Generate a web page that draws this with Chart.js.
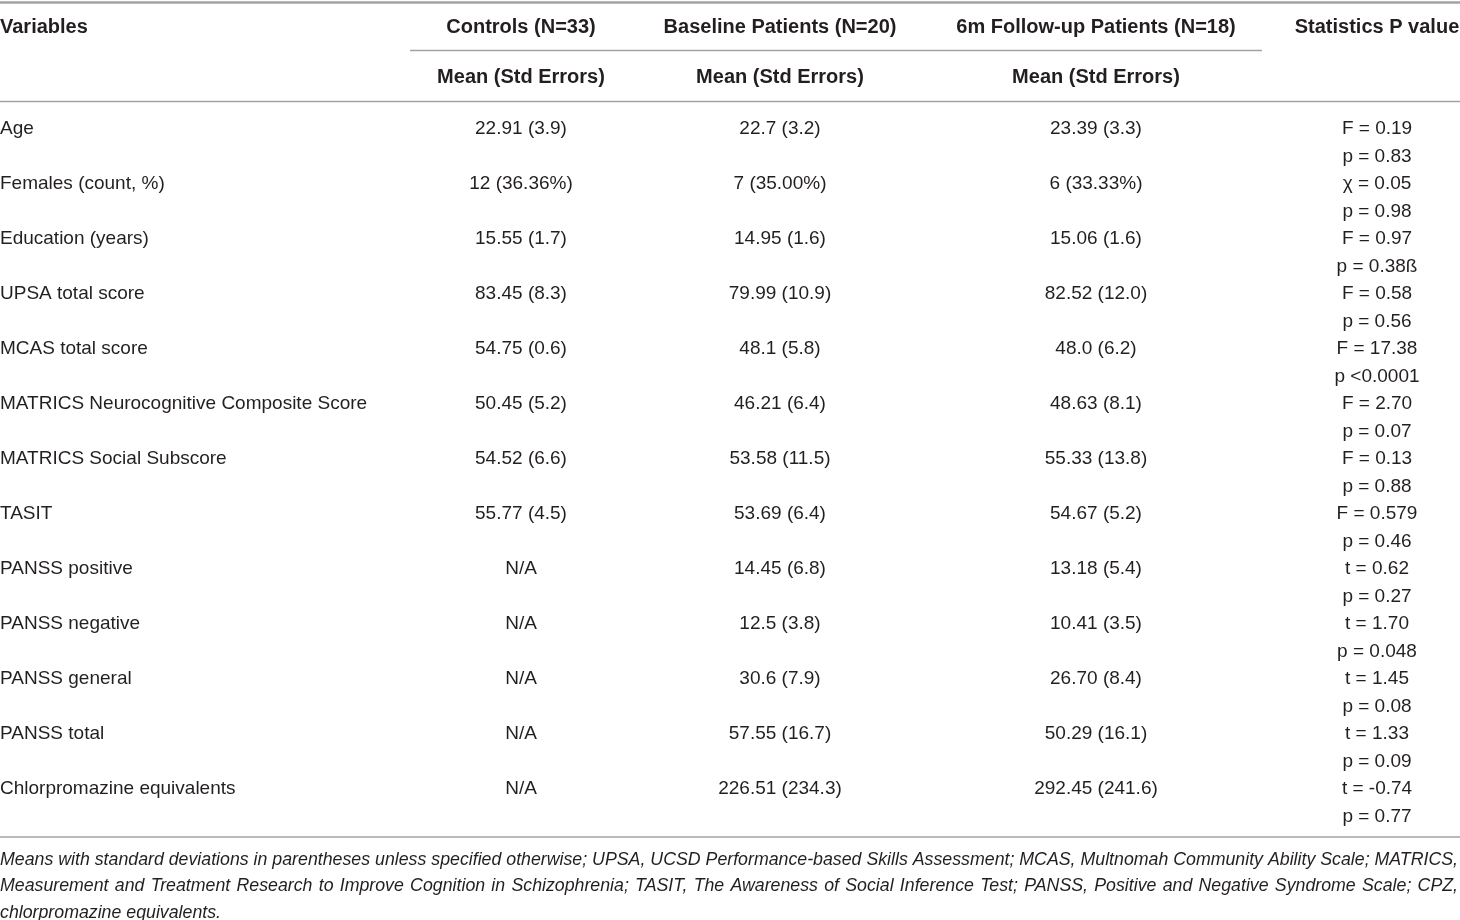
<!DOCTYPE html>
<html>
<head>
<meta charset="utf-8">
<title>Demographics table</title>
<script src="https://cdn.jsdelivr.net/npm/chart.js@4.4.1/dist/chart.umd.min.js"></script>
<style>
  html, body { margin: 0; padding: 0; background: #fff; }
  #wrap { width: 1460px; height: 920px; position: relative; }
</style>
</head>
<body>
<div id="wrap"><canvas id="tableChart"></canvas></div>
<script>
// table contents
const variables = [
    'Age', 'Females (count, %)', 'Education (years)', 'UPSA total score', 'MCAS total score',
    'MATRICS Neurocognitive Composite Score', 'MATRICS Social Subscore', 'TASIT',
    'PANSS positive', 'PANSS negative', 'PANSS general', 'PANSS total', 'Chlorpromazine equivalents'
];
const groups = ['Controls (N=33)', 'Baseline Patients (N=20)', '6m Follow-up Patients (N=18)'];
const controls = [
    '22.91 (3.9)', '12 (36.36%)', '15.55 (1.7)', '83.45 (8.3)', '54.75 (0.6)', '50.45 (5.2)',
    '54.52 (6.6)', '55.77 (4.5)', 'N/A', 'N/A', 'N/A', 'N/A', 'N/A'
];
const baseline = [
    '22.7 (3.2)', '7 (35.00%)', '14.95 (1.6)', '79.99 (10.9)', '48.1 (5.8)', '46.21 (6.4)',
    '53.58 (11.5)', '53.69 (6.4)', '14.45 (6.8)', '12.5 (3.8)', '30.6 (7.9)', '57.55 (16.7)', '226.51 (234.3)'
];
const followup = [
    '23.39 (3.3)', '6 (33.33%)', '15.06 (1.6)', '82.52 (12.0)', '48.0 (6.2)', '48.63 (8.1)',
    '55.33 (13.8)', '54.67 (5.2)', '13.18 (5.4)', '10.41 (3.5)', '26.70 (8.4)', '50.29 (16.1)', '292.45 (241.6)'
];
const testStat = [
    'F = 0.19', '\u03c7 = 0.05', 'F = 0.97', 'F = 0.58', 'F = 17.38', 'F = 2.70', 'F = 0.13',
    'F = 0.579', 't = 0.62', 't = 1.70', 't = 1.45', 't = 1.33', 't = -0.74'
];
const pValue = [
    'p = 0.83', 'p = 0.98', 'p = 0.38\u00df', 'p = 0.56', 'p <0.0001', 'p = 0.07', 'p = 0.88',
    'p = 0.46', 'p = 0.27', 'p = 0.048', 'p = 0.08', 'p = 0.09', 'p = 0.77'
];
const footnote = [
    'Means with standard deviations in parentheses unless specified otherwise; UPSA, UCSD Performance-based Skills Assessment; MCAS, Multnomah Community Ability Scale; MATRICS,',
    'Measurement and Treatment Research to Improve Cognition in Schizophrenia; TASIT, The Awareness of Social Inference Test; PANSS, Positive and Negative Syndrome Scale; CPZ,',
    'chlorpromazine equivalents.'
];

// layout (x positions on the linear x scale)
const colCenters = [521, 780, 1096];
const statCenter = 1377;
const FONT = '"Liberation Sans", Arial, sans-serif';
const INK = '#231f20';
const RULE = '#a3a3a3';

function hline(ctx, x1, x2, y, w) {
    ctx.strokeStyle = RULE;
    ctx.lineWidth = w;
    ctx.beginPath();
    ctx.moveTo(x1, y);
    ctx.lineTo(x2, y);
    ctx.stroke();
}

// draws a line of words spread to the given width (in unscaled units)
function justified(ctx, text, x, y, width) {
    const words = text.split(' ');
    let total = 0;
    words.forEach(w => total += ctx.measureText(w).width);
    const gap = (width - total) / (words.length - 1);
    let cx = x;
    words.forEach(w => {
        ctx.fillText(w, cx, y);
        cx += ctx.measureText(w).width + gap;
    });
}

const tablePlugin = {
    id: 'tablePlugin',
    beforeDraw(chart) {
        const ctx = chart.ctx;
        ctx.save();
        ctx.fillStyle = '#fff';
        ctx.fillRect(0, 0, chart.width, chart.height);
        ctx.restore();
    },
    afterDraw(chart) {
        const ctx = chart.ctx;
        const xs = chart.scales.x;
        const ys = chart.scales.y;
        const area = chart.chartArea;
        const left = xs.getPixelForValue(0);
        const right = xs.getPixelForValue(1460);
        ctx.save();
        ctx.textBaseline = 'middle';
        ctx.fillStyle = INK;

        // header
        const headTop = area.top - 113;
        hline(ctx, left, right, headTop + 2, 2.5);
        hline(ctx, xs.getPixelForValue(410), xs.getPixelForValue(1262), headTop + 50, 1.5);
        hline(ctx, left, right, area.top - 12, 1.5);
        ctx.font = 'bold 20px ' + FONT;
        ctx.textAlign = 'left';
        ctx.fillText('Variables', left, headTop + 27);
        ctx.textAlign = 'center';
        groups.forEach((g, i) => {
            const cx = xs.getPixelForValue(colCenters[i]);
            ctx.fillText(g, cx, headTop + 27);
            ctx.fillText('Mean (Std Errors)', cx, headTop + 77);
        });
        ctx.fillText('Statistics P value', xs.getPixelForValue(statCenter), headTop + 27);

        // body rows
        ctx.font = '19px ' + FONT;
        variables.forEach((v, i) => {
            const yc = ys.getPixelForValue(i) + 1.5;
            const y1 = yc - 14;
            const y2 = yc + 14;
            ctx.textAlign = 'left';
            ctx.fillText(v, left, y1);
            ctx.textAlign = 'center';
            [controls, baseline, followup].forEach((col, j) => {
                ctx.fillText(col[i], xs.getPixelForValue(colCenters[j]), y1);
            });
            ctx.fillText(testStat[i], xs.getPixelForValue(statCenter), y1);
            ctx.fillText(pValue[i], xs.getPixelForValue(statCenter), y2);
        });
        hline(ctx, left, right, area.bottom + 8.5, 1.5);

        // footnote, squeezed horizontally like a condensed face
        ctx.font = 'italic 19px ' + FONT;
        ctx.textAlign = 'left';
        const fullW = right - left - 2;
        const squeeze = Math.min(1, fullW / ctx.measureText(footnote[0]).width * 1.0);
        ctx.save();
        ctx.translate(left, 0);
        ctx.scale(squeeze, 1);
        footnote.forEach((line, i) => {
            const y = area.bottom + 31 + i * 26.5;
            if (i < footnote.length - 1) {
                justified(ctx, line, 0, y, fullW / squeeze);
            } else {
                ctx.fillText(line, 0, y);
            }
        });
        ctx.restore();
        ctx.restore();
    }
};

const ctx = document.getElementById('tableChart').getContext('2d');
new Chart(ctx, {
    type: 'line',
    data: {
        labels: variables,
        datasets: [{
            data: [],
            showLine: false,
            pointRadius: 0
        }]
    },
    options: {
        responsive: true,
        maintainAspectRatio: false,
        animation: false,
        devicePixelRatio: 1,
        layout: { padding: { top: 113.5, bottom: 91.5, left: 0, right: 0 } },
        plugins: {
            legend: { display: false },
            tooltip: { enabled: false }
        },
        scales: {
            x: { type: 'linear', min: 0, max: 1460, display: false },
            y: { type: 'category', labels: variables, offset: true, display: false }
        }
    },
    plugins: [tablePlugin]
});
</script>
</body>
</html>
